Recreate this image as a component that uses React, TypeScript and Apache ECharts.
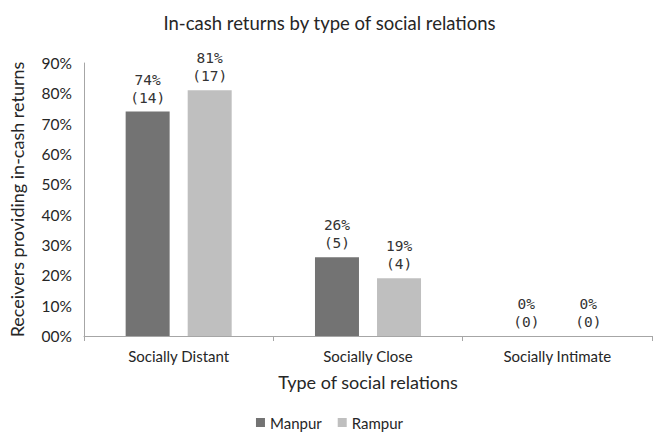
import React, { useEffect, useRef } from "react";
import * as echarts from "echarts";

const categories = ["Socially Distant", "Socially Close", "Socially Intimate"];
const manpurPct = [74, 26, 0];
const manpurCount = [14, 5, 0];
const rampurPct = [81, 19, 0];
const rampurCount = [17, 4, 0];
const seriesNames = ["Manpur", "Rampur"];

export default function App() {
  const ref = useRef<HTMLDivElement>(null);
  useEffect(() => {
    const chart = echarts.init(ref.current!, null, { renderer: "svg" });
    const labelStyle = (counts: number[]) => ({
      show: true,
      position: "top" as const,
      distance: 5,
      color: "#333333",
      fontFamily: "DejaVu Sans Mono",
      fontSize: 14.5,
      lineHeight: 18,
      formatter: (p: any) => `${p.value}%\n(${counts[p.dataIndex]})`,
    });
    chart.setOption({
      animation: false,
      backgroundColor: "#ffffff",
      title: {
        text: "In-cash returns by type of social relations",
        left: "center",
        top: 8,
        textStyle: { fontFamily: "Lato", fontWeight: "normal", fontSize: 18.5, color: "#262626" },
      },
      legend: {
        data: seriesNames,
        bottom: 2,
        left: "center",
        itemWidth: 9,
        itemHeight: 9,
        itemGap: 16,
        icon: "rect",
        textStyle: { fontFamily: "Lato", fontSize: 15, color: "#262626" },
      },
      grid: { left: 79, right: 7, top: 63, bottom: 101, containLabel: false },
      xAxis: {
        type: "category",
        data: categories,
        name: "Type of social relations",
        nameLocation: "middle",
        nameGap: 37,
        nameTextStyle: { fontFamily: "Lato", fontSize: 18, color: "#262626" },
        axisLine: { lineStyle: { color: "#a6a6a6" } },
        axisTick: { show: true, length: 5, lineStyle: { color: "#a6a6a6" } },
        axisLabel: { fontFamily: "Lato", fontSize: 15, color: "#262626", margin: 12 },
      },
      yAxis: {
        type: "value",
        min: 0,
        max: 90,
        interval: 10,
        name: "Receivers providing in-cash returns",
        nameLocation: "middle",
        nameGap: 58,
        nameTextStyle: { fontFamily: "Lato", fontSize: 18, color: "#262626" },
        axisLine: { show: true, lineStyle: { color: "#a6a6a6" } },
        axisTick: { show: false },
        splitLine: { show: false },
        axisLabel: {
          fontFamily: "Lato",
          fontSize: 15.5,
          color: "#262626",
          margin: 12,
          formatter: (v: number) => `${v < 10 ? "0" : ""}${v}%`,
        },
      },
      series: [
        {
          name: seriesNames[0],
          type: "bar",
          data: manpurPct,
          barWidth: 44,
          barGap: "41%",
          itemStyle: { color: "#737373" },
          label: labelStyle(manpurCount),
        },
        {
          name: seriesNames[1],
          type: "bar",
          data: rampurPct,
          barWidth: 44,
          barGap: "41%",
          itemStyle: { color: "#bfbfbf" },
          label: labelStyle(rampurCount),
        },
      ],
    });
    return () => chart.dispose();
  }, []);
  return <div ref={ref} style={{ width: 659, height: 437, position: "absolute", left: 0, top: 0 }} />;
}
